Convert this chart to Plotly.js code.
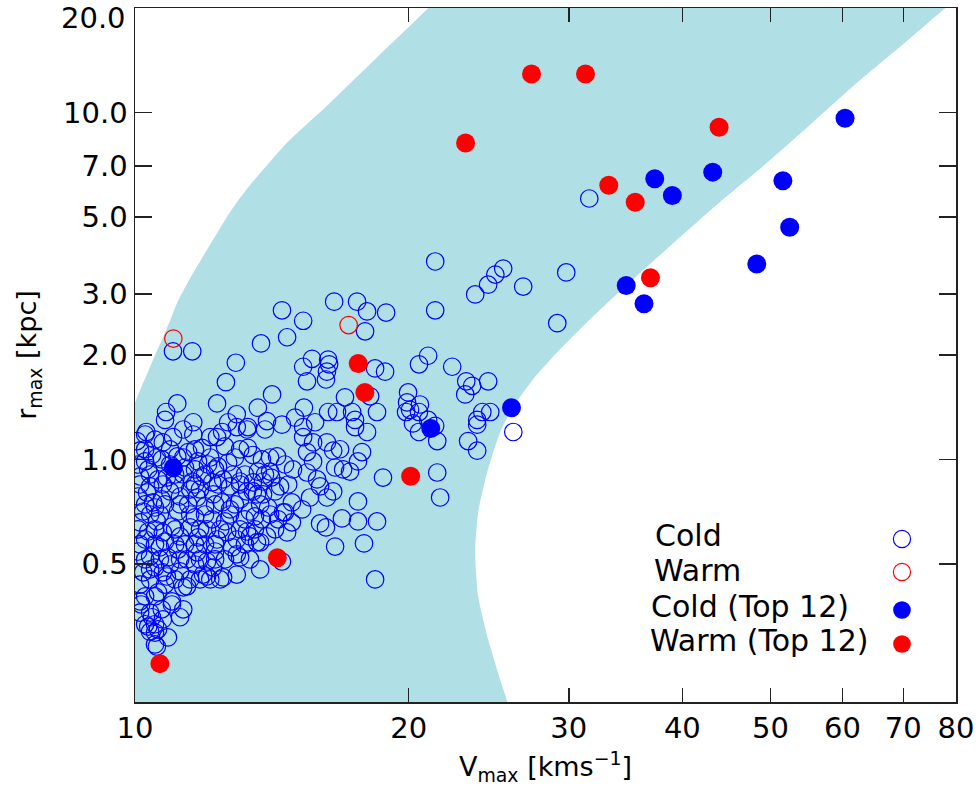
<!DOCTYPE html>
<html><head><meta charset="utf-8">
<script src="https://cdn.plot.ly/plotly-3.0.1.min.js"></script>
<style>html,body{margin:0;padding:0;background:#fff}</style>
</head><body>
<div id="chart" style="width:979px;height:793px"></div>
<script>
// ---------- data ----------
const coldV = [
31.6,21.39,24.91,25.41,26.73,29.81,29.14,
16.56,17.55,18.00,18.89,21.39,15.31,17.91,23.67,24.46,15.66,15.31,15.46,16.31,16.35,16.26,16.22,18.37,18.84,20.53,21.01,22.33,23.14,23.49,24.46,23.08,
15.34,15.78,15.31,15.31,15.70,15.46,16.26,16.52,16.81,17.02,16.31,16.68,17.33,17.46,17.46,18.00,18.46,18.14,17.77,17.59,17.24,16.94,16.60,15.70,15.46,15.86,15.98,15.58,16.26,16.52,15.27,15.98,
19.97,19.92,20.07,20.58,20.53,20.53,21.39,21.50,19.87,24.10,24.59,23.79,23.79,23.25,23.79,26.07,18.74,21.50,21.66,17.59,16.89,17.59,18.46,16.22,16.60,17.86,18.37,21.01,20.22,
14.51,14.70,13.76,11.56,11.01,12.91,12.59,14.15,12.31,13.65,12.94,11.13,10.82,10.79,11.59,12.66,13.31,13.97,14.51,15.00,11.30,10.29,
10.05,10.26,10.52,10.73,11.01,11.59,11.85,12.10,12.31,12.47,12.94,12.56,13.31,13.28,13.90,
10.13,10.44,10.70,11.13,11.44,11.73,12.03,12.34,12.66,12.82,13.48,13.79,13.65,14.08,14.33,14.62,14.92,
10.13,10.34,10.60,10.84,11.30,11.56,11.85,12.16,12.50,12.72,13.05,13.28,13.62,13.48,13.83,
10.08,10.31,10.47,10.70,10.93,11.21,11.44,11.70,11.94,12.19,12.47,12.72,13.05,13.38,13.79,14.01,14.37,14.62,14.70,
10.13,10.34,10.57,10.73,10.98,11.21,11.50,11.73,12.00,12.31,12.63,12.94,13.28,13.62,13.97,
10.08,10.39,10.65,10.87,11.15,11.41,11.70,12.00,12.25,12.56,12.94,13.73,14.51,
10.21,10.52,10.84,11.21,11.50,11.88,12.41,12.94,11.30,
10.26,10.60,11.30,10.98,10.39,10.13,10.73,10.52,10.26,10.39,10.87,10.60,10.57,
13.05,12.50,12.00,11.41,10.16,10.52,10.98,11.21,10.70,10.44,10.34,10.52,10.52,10.13,10.39,10.73,
14.88,14.88,14.55,14.44,13.55,13.73,13.38,13.05,13.48,13.83,14.12,
10.26,10.93,11.35,11.64,10.39,11.07,11.79,12.25,10.21,10.65,11.15,11.64,12.16,12.56,10.26,10.79,11.35,11.94,10.93,11.64,12.19,10.13,10.79,10.08,10.52,11.50,12.79,13.21,14.26,
10.26,10.93,11.64,13.05,10.57,11.30,12.10,12.88,14.08,10.39,11.07,11.94,13.21,13.90,
10.13,10.73,11.64,12.34,13.05,14.74,10.26,10.79,11.21,12.25,12.88,13.73,10.39,11.50,11.94,12.72,14.08,
10.08,10.52,11.07,11.79,12.41,13.55,14.26,10.13,10.52,11.07,11.64,12.25,13.21,
10.26,10.65,11.21,11.79,12.25,13.38,10.39,11.07,11.79,12.10
];
const coldR = [
5.65,3.72,3.41,3.55,3.15,3.46,2.47,
2.85,2.85,2.67,2.65,2.69,2.51,2.34,2.99,3.19,1.95,1.85,1.68,1.94,1.88,1.79,1.70,1.83,1.79,1.88,1.99,1.85,1.68,1.63,1.68,1.54,
1.41,1.28,1.24,1.16,1.12,1.05,1.12,1.06,1.07,1.51,1.37,1.37,1.37,1.30,1.24,1.20,1.37,1.52,1.05,0.987,0.923,0.936,0.948,0.987,0.917,0.876,0.836,0.777,0.777,0.809,0.718,0.654,
1.56,1.46,1.39,1.44,1.37,1.20,1.25,1.13,1.37,1.37,1.37,1.30,1.26,1.13,1.06,1.20,0.887,0.917,0.777,0.757,0.676,0.663,0.663,0.637,0.561,0.573,0.451,1.30,1.27,
2.69,2.25,2.16,2.05,2.05,1.90,1.67,1.54,1.45,1.41,1.35,1.45,1.37,1.30,1.28,1.28,1.24,1.29,1.26,1.32,1.22,1.20,
1.13,1.18,1.14,1.12,1.16,1.18,1.08,1.16,1.16,1.20,1.24,1.09,1.08,1.22,1.22,
1.06,1.03,1.00,1.02,1.05,0.987,0.967,0.955,0.980,0.905,1.03,1.00,0.923,0.923,1.02,0.967,0.936,
0.893,0.936,0.876,0.887,0.905,0.864,0.893,0.859,0.876,0.836,0.864,0.809,0.793,0.859,0.864,
0.782,0.803,0.752,0.767,0.809,0.782,0.742,0.777,0.732,0.793,0.752,0.718,0.767,0.708,0.672,0.727,0.672,0.704,0.616,
0.659,0.620,0.663,0.616,0.641,0.600,0.637,0.596,0.629,0.588,0.616,0.588,0.620,0.577,0.600,
0.543,0.525,0.558,0.522,0.550,0.515,0.540,0.508,0.543,0.515,0.533,0.482,0.508,
0.473,0.488,0.460,0.476,0.451,0.466,0.451,0.466,0.428,
0.403,0.414,0.370,0.390,0.362,0.362,0.346,0.335,0.335,0.319,0.307,0.324,0.289,
0.522,0.457,0.460,0.431,0.382,0.403,0.382,0.351,0.370,0.351,0.330,0.317,0.293,0.390,0.482,0.473,
0.752,0.659,0.704,0.836,0.685,0.577,0.600,0.629,0.809,0.793,0.887,
0.987,0.967,0.948,0.936,0.836,0.847,0.820,0.936,0.708,0.694,0.708,0.681,0.672,0.663,0.588,0.580,0.569,0.569,0.498,0.498,0.488,0.436,0.436,0.967,0.727,0.820,0.558,0.672,0.809,
1.069,1.069,1.069,1.069,1.013,1.013,1.013,1.013,1.013,0.905,0.905,0.905,0.905,0.905,
0.847,0.847,0.847,0.847,0.847,0.847,0.742,0.742,0.742,0.742,0.742,0.742,0.694,0.694,0.694,0.694,0.694,
0.629,0.629,0.629,0.629,0.629,0.629,0.629,0.569,0.569,0.569,0.569,0.569,0.569,
0.515,0.515,0.515,0.515,0.515,0.515,0.451,0.451,0.451,0.451
];
const warmV = [11.02, 17.18];
const warmR = [2.23, 2.44];
const coldTopV = [60.4, 37.3, 39.0, 43.2, 51.6, 52.5, 48.3, 34.7, 36.3, 11.02, 21.15, 25.95];
const coldTopR = [9.62, 6.44, 5.76, 6.73, 6.36, 4.67, 3.66, 3.17, 2.81, 0.947, 1.228, 1.41];
const warmTopV = [27.3, 31.3, 23.1, 43.9, 33.2, 35.5, 36.9, 10.65, 14.34, 17.6, 17.9, 20.1];
const warmTopR = [12.9, 12.9, 8.17, 9.06, 6.17, 5.51, 3.34, 0.258, 0.521, 1.89, 1.56, 0.895];

// shaded band edges (left edge bottom->top, right edge top->bottom)
const bandLeftV  = [9.63, 9.81, 10.00, 10.19, 10.36, 10.53, 10.71, 10.94, 11.13, 11.44, 11.79, 12.19, 12.63, 13.01, 13.48, 14.08, 14.70, 15.46, 16.31, 17.42, 18.60, 19.87, 21.11, 22.27, 23.49];
const bandLeftR  = [1.149, 1.295, 1.459, 1.645, 1.817, 2.007, 2.217, 2.531, 2.833, 3.254, 3.719, 4.303, 5.015, 5.611, 6.322, 7.216, 8.19, 9.27, 10.53, 12.44, 14.69, 17.33, 20.19, 23.0, 26.27];
const bandRightV = [88.4, 83.2, 78.3, 69.85, 62.3, 55.3, 49.0, 44.2, 40.3, 37.2, 34.5, 31.4, 28.85, 27.4, 26.07, 25.22, 24.40, 23.85, 23.67, 23.85, 24.46, 25.22, 25.67, 26.13, 26.6];
const bandRightR = [25.76, 22.56, 20.2, 15.67, 12.19, 9.22, 6.98, 5.58, 4.51, 3.74, 3.13, 2.48, 1.98, 1.70, 1.42, 1.20, 0.917, 0.704, 0.540, 0.403, 0.303, 0.232, 0.201, 0.174, 0.150];

const xTickVals = [10, 20, 30, 40, 50, 60, 70, 80];
const xTickText = ['10', '20', '30', '40', '50', '60', '70', '80'];
const yTickVals = [0.5, 1, 2, 3, 5, 7, 10, 20];
const yTickText = ['0.5', '1.0', '2.0', '3.0', '5.0', '7.0', '10.0', '20.0'];
const legendLabels = ['Cold', 'Warm', 'Cold (Top 12)', 'Warm (Top 12)'];

// ---------- figure ----------
const FONT = 'DejaVu Sans, Liberation Sans, Arial, sans-serif';
const BLUE = 'rgb(0,0,255)', RED = 'rgb(255,0,0)', BAND = 'rgb(176,224,230)';

const bandX = [9.0].concat(bandLeftV, bandRightV, [9.0]);
const bandY = [0.15].concat(bandLeftR, bandRightR, [0.15]);

const traces = [
  {x: bandX, y: bandY, type: 'scatter', mode: 'lines', fill: 'toself', fillcolor: BAND,
   line: {width: 0, color: BAND, shape: 'spline', smoothing: 0.6}, hoverinfo: 'skip'},
  {x: coldV, y: coldR, type: 'scatter', mode: 'markers',
   marker: {symbol: 'circle-open', size: 17.5, color: BLUE, line: {width: 1.2, color: BLUE}}},
  {x: warmV, y: warmR, type: 'scatter', mode: 'markers',
   marker: {symbol: 'circle-open', size: 17.5, color: RED, line: {width: 1.2, color: RED}}},
  {x: coldTopV, y: coldTopR, type: 'scatter', mode: 'markers',
   marker: {symbol: 'circle', size: 19, color: BLUE, line: {width: 0}}},
  {x: warmTopV, y: warmTopR, type: 'scatter', mode: 'markers',
   marker: {symbol: 'circle', size: 19, color: RED, line: {width: 0}}}
];

// manual legend (symbols to the right of the text)
const legTextX = [0.6309, 0.6297, 0.6261, 0.6248];
const legTextY = [0.2406, 0.1902, 0.1369, 0.0879];
const legSymY  = [0.2349, 0.1873, 0.1326, 0.0836];
const legSymX  = 0.9342;
const legColors = [BLUE, RED, BLUE, RED];
const legFilled = [false, false, true, true];

const annotations = legendLabels.map((t, i) => ({
  text: t, xref: 'paper', yref: 'paper', x: legTextX[i], y: legTextY[i],
  xanchor: 'left', yanchor: 'middle', showarrow: false,
  font: {family: FONT, size: 30, color: 'black'}
}));
// top y label sits just inside the frame, as in the reference
const lastY = yTickText.length - 1;
annotations.push({
  text: yTickText[lastY], xref: 'paper', yref: 'paper', x: 0, y: 0.9856,
  xanchor: 'right', yanchor: 'middle', xshift: -7, showarrow: false,
  font: {family: FONT, size: 29, color: 'black'}
});
const yTickShown = yTickText.map((t, i) => i === lastY ? '' : t);

const shapes = legendLabels.map((t, i) => {
  const d = legFilled[i] ? 17.7 : 17.2;
  return {
    type: 'circle', xref: 'paper', yref: 'paper', xsizemode: 'pixel', ysizemode: 'pixel',
    xanchor: legSymX, yanchor: legSymY[i], x0: -d / 2, x1: d / 2, y0: -d / 2, y1: d / 2,
    line: {color: legColors[i], width: legFilled[i] ? 0 : 1.2},
    fillcolor: legFilled[i] ? legColors[i] : 'rgba(0,0,0,0)'
  };
});

const axisCommon = {
  type: 'log', tickmode: 'array', ticks: 'inside', tickwidth: 1.5, tickcolor: '#222',
  showline: true, linecolor: '#222', linewidth: 1.5, mirror: 'ticks',
  showgrid: false, zeroline: false, tickfont: {family: FONT, size: 29, color: 'black'}
};

const layout = {
  width: 979, height: 793,
  margin: {l: 135, r: 23, t: 8, b: 91, pad: 0},
  paper_bgcolor: 'white', plot_bgcolor: 'white',
  font: {family: FONT, color: 'black'},
  showlegend: false,
  xaxis: Object.assign({}, axisCommon, {
    range: [1, Math.log10(80)], tickvals: xTickVals, ticktext: xTickText, ticklen: 14,
    title: {text: 'V<sub>max</sub> [kms<sup>\u22121</sup>]', font: {family: FONT, size: 27}, standoff: 13}
  }),
  yaxis: Object.assign({}, axisCommon, {
    range: [Math.log10(0.2), Math.log10(20)], tickvals: yTickVals, ticktext: yTickShown, ticklen: 17,
    title: {text: 'r<sub>max</sub> [kpc]', font: {family: FONT, size: 27}, standoff: 18}
  }),
  annotations: annotations,
  shapes: shapes
};

Plotly.newPlot('chart', traces, layout, {staticPlot: true, displayModeBar: false});
</script>
</body></html>
